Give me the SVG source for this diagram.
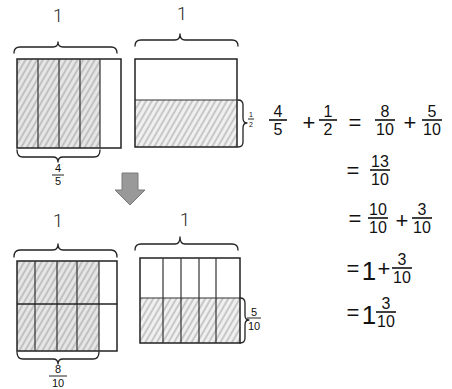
<svg xmlns="http://www.w3.org/2000/svg" width="452" height="389" viewBox="0 0 452 389">
<style>
.box{fill:none;stroke:#222;stroke-width:1.5}
.div{stroke:#333;stroke-width:1.2;fill:none}
.brace{fill:none;stroke:#222;stroke-width:1.3;stroke-linecap:round;stroke-linejoin:round}
.t{font-family:"Liberation Sans",Arial,sans-serif;fill:#111;text-anchor:middle}
.one{font-family:Roboto,"DejaVu Sans",sans-serif;font-weight:300;font-size:18px;fill:#222;text-anchor:middle}
.num{font-size:16px}
.op{font-size:22px}
.fl{stroke:#111;stroke-width:1.6}
.sfl{stroke:#222;stroke-width:1}
</style>
<defs>
<pattern id="hatch" patternUnits="userSpaceOnUse" width="5" height="5" patternTransform="rotate(30)">
<line x1="2" y1="0" x2="2" y2="5" stroke="#8a8a8a" stroke-width="0.8"/>
</pattern>
</defs>
<rect width="452" height="389" fill="#fff"/>

<g id="top-left">
<rect x="17" y="59" width="83" height="89" fill="#e6e6e6"/>
<rect x="17" y="59" width="83" height="89" fill="url(#hatch)"/>
<rect class="box" x="17" y="59" width="104" height="89"/>
<path class="div" d="M38,59V148M59,59V148M80,59V148M100,59V148"/>
<path class="brace" d="M14,53Q14,47 20,47L53,47Q58,47 58,42Q58,47 63,47L111,47Q117,47 117,53"/>
<text class="one" x="58" y="22">1</text>
<path class="brace" d="M17,150Q17,157 23,157L53,157Q58,157 58,162Q58,157 63,157L94,157Q100,157 100,150"/>
<text class="t" x="58" y="172" font-size="11">4</text>
<line class="sfl" x1="52" y1="175" x2="64" y2="175"/>
<text class="t" x="58" y="185" font-size="11">5</text>
</g>

<g id="top-right">
<rect x="135" y="100" width="102" height="47" fill="#f0f0f0"/>
<rect x="135" y="100" width="102" height="47" fill="url(#hatch)"/>
<rect class="box" x="135" y="59" width="102" height="88"/>
<line class="div" x1="135" y1="100" x2="237" y2="100"/>
<path class="brace" d="M135,46Q135,40 141,40L175,40Q180,40 180,34Q180,40 185,40L232,40Q238,40 238,46"/>
<text class="one" x="182" y="20">1</text>
<path class="brace" d="M238,100Q243,100 243,105L243,118Q243,123 247,123Q243,123 243,128L243,142Q243,147 238,147"/>
<text class="t" x="251" y="117" font-size="7">1</text>
<line class="sfl" x1="248" y1="119" x2="254" y2="119"/>
<text class="t" x="251" y="127" font-size="7">2</text>
</g>

<g id="connectors">
<polygon points="122,173 138,173 138,190 145,190 130,205 115,190 122,190" fill="#999" stroke="#7a7a7a" stroke-width="1"/>
</g>

<g id="bottom-left">
<rect x="17" y="261" width="82" height="90" fill="#e6e6e6"/>
<rect x="17" y="261" width="82" height="90" fill="url(#hatch)"/>
<rect class="box" x="17" y="261" width="100" height="90"/>
<path class="div" d="M35,261V351M57,261V351M77,261V351M99,261V351"/>
<line class="box" x1="17" y1="304" x2="117" y2="304"/>
<path class="brace" d="M14,257Q14,250 20,250L53,250Q58,250 58,244Q58,250 63,250L111,250Q117,250 117,257"/>
<text class="one" x="58" y="227">1</text>
<path class="brace" d="M17,352Q17,359 23,359L53,359Q58,359 58,364Q58,359 63,359L93,359Q99,359 99,352"/>
<text class="t" x="58" y="373" font-size="11">8</text>
<line class="sfl" x1="49" y1="376" x2="67" y2="376"/>
<text class="t" x="58" y="387" font-size="11">10</text>
</g>

<g id="bottom-right">
<rect x="140" y="298" width="100" height="45" fill="#f0f0f0"/>
<rect x="140" y="298" width="100" height="45" fill="url(#hatch)"/>
<rect class="box" x="140" y="258" width="100" height="85"/>
<line class="div" x1="140" y1="298" x2="240" y2="298"/>
<path class="div" d="M163,258V343M181,258V343M199,258V343M216,258V343"/>
<path class="brace" d="M135,250Q135,244 141,244L175,244Q180,244 180,237Q180,244 185,244L232,244Q238,244 238,250"/>
<text class="one" x="185" y="226">1</text>
<path class="brace" d="M240,298Q245,298 245,303L245,315Q245,320 249,320Q245,320 245,325L245,338Q245,343 240,343"/>
<text class="t" x="254" y="316" font-size="11">5</text>
<line class="sfl" x1="247" y1="318" x2="261" y2="318"/>
<text class="t" x="254" y="330" font-size="11">10</text>
</g>

<g id="equation-1">
<text class="t num" x="278" y="117">4</text>
<line class="fl" x1="269" y1="120" x2="287" y2="120"/>
<text class="t num" x="278" y="135">5</text>
<text class="t op" x="309" y="130">+</text>
<text class="t num" x="328" y="117">1</text>
<line class="fl" x1="319" y1="120" x2="337" y2="120"/>
<text class="t num" x="328" y="135">2</text>
<text class="t op" x="355" y="130">=</text>
<text class="t num" x="385" y="117">8</text>
<line class="fl" x1="375" y1="120" x2="395" y2="120"/>
<text class="t num" x="385" y="135">10</text>
<text class="t op" x="410" y="130">+</text>
<text class="t num" x="432" y="117">5</text>
<line class="fl" x1="422" y1="120" x2="442" y2="120"/>
<text class="t num" x="432" y="135">10</text>
</g>

<g id="equation-2">
<text class="t op" x="353" y="178">=</text>
<text class="t num" x="380" y="167">13</text>
<line class="fl" x1="370" y1="170" x2="390" y2="170"/>
<text class="t num" x="380" y="185">10</text>
</g>

<g id="equation-3">
<text class="t op" x="355" y="226">=</text>
<text class="t num" x="378" y="215">10</text>
<line class="fl" x1="368" y1="218" x2="388" y2="218"/>
<text class="t num" x="378" y="233">10</text>
<text class="t op" x="402" y="228">+</text>
<text class="t num" x="422" y="215">3</text>
<line class="fl" x1="412" y1="218" x2="432" y2="218"/>
<text class="t num" x="422" y="233">10</text>
</g>

<g id="equation-4">
<text class="t op" x="353" y="276">=</text>
<text class="t" x="369" y="280" font-size="26">1</text>
<text class="t op" x="384" y="276">+</text>
<text class="t num" x="402" y="265">3</text>
<line class="fl" x1="392" y1="268" x2="412" y2="268"/>
<text class="t num" x="402" y="283">10</text>
</g>

<g id="equation-5">
<text class="t op" x="353" y="320">=</text>
<text class="t" x="369" y="324" font-size="26">1</text>
<text class="t num" x="386" y="309">3</text>
<line class="fl" x1="376" y1="312" x2="396" y2="312"/>
<text class="t num" x="386" y="327">10</text>
</g>
</svg>
